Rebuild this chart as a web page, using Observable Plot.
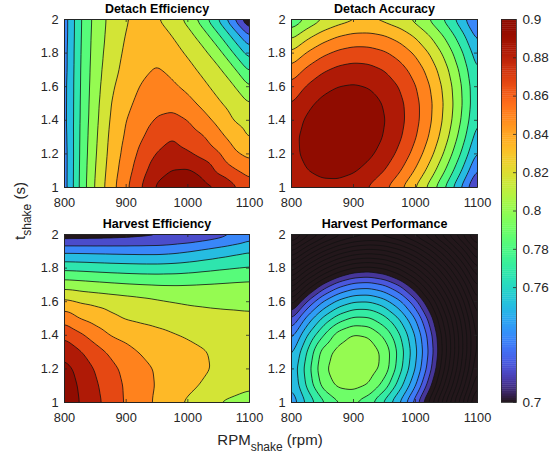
<!DOCTYPE html>
<html>
<head>
<meta charset="utf-8">
<script src="https://cdn.jsdelivr.net/npm/d3@7"></script>
<script src="https://cdn.jsdelivr.net/npm/@observablehq/plot@0.6"></script>
<style>
  body { margin: 0; background: #fff; }
  #chart { position: relative; width: 554px; height: 456px; overflow: hidden; background: #fff; }
  text { white-space: pre; }
</style>
</head>
<body>
<div id="chart"></div>
<script>
// ---- data ----
const rpm = [800, 825, 850, 875, 900, 925, 950, 975, 1000, 1025, 1050, 1075, 1100];
const tShake = [1.0, 1.1, 1.2, 1.3, 1.4, 1.5, 1.6, 1.7, 1.8, 1.9, 2.0];

// rows: t = 1.0 ... 2.0, columns: rpm 800 ... 1100
const detachEfficiency = [
  [0.794, 0.8218, 0.8413, 0.8558, 0.8681, 0.88, 0.892, 0.8935, 0.896, 0.8933, 0.8905, 0.882, 0.874],
  [0.794, 0.8215, 0.8403, 0.8545, 0.8657, 0.8763, 0.886, 0.8907, 0.8914, 0.8875, 0.8775, 0.8713, 0.866],
  [0.794, 0.8212, 0.8392, 0.8533, 0.8635, 0.8729, 0.8807, 0.8841, 0.8814, 0.8767, 0.8711, 0.862, 0.857],
  [0.7945, 0.8209, 0.8383, 0.8523, 0.8615, 0.8691, 0.875, 0.8798, 0.8752, 0.8709, 0.8633, 0.8557, 0.849],
  [0.795, 0.8206, 0.8374, 0.8511, 0.86, 0.8663, 0.8711, 0.8723, 0.87, 0.8638, 0.857, 0.8495, 0.846],
  [0.795, 0.8204, 0.8367, 0.85, 0.8578, 0.863, 0.8671, 0.8679, 0.863, 0.8575, 0.8513, 0.8456, 0.84],
  [0.795, 0.8201, 0.836, 0.8481, 0.8557, 0.8608, 0.8631, 0.8615, 0.8578, 0.8522, 0.8466, 0.8409, 0.83],
  [0.7945, 0.8199, 0.8353, 0.8464, 0.8531, 0.858, 0.861, 0.858, 0.853, 0.8477, 0.8419, 0.8319, 0.818],
  [0.7945, 0.8195, 0.8347, 0.8449, 0.8519, 0.8567, 0.8578, 0.8535, 0.8488, 0.8427, 0.8336, 0.8194, 0.8055],
  [0.794, 0.8191, 0.8342, 0.8436, 0.8506, 0.8559, 0.855, 0.85, 0.8438, 0.8352, 0.8218, 0.8069, 0.79],
  [0.794, 0.8188, 0.8336, 0.8428, 0.849, 0.8548, 0.8508, 0.8446, 0.8371, 0.8238, 0.8088, 0.79, 0.768]
];

const detachAccuracy = [
  [0.8805, 0.8845, 0.8868, 0.8867, 0.8842, 0.8792, 0.8718, 0.862, 0.8497, 0.835, 0.8179, 0.7984, 0.7765],
  [0.8845, 0.8899, 0.8927, 0.8932, 0.8912, 0.8868, 0.8801, 0.8708, 0.8591, 0.845, 0.8285, 0.8096, 0.7882],
  [0.8869, 0.8928, 0.8963, 0.8973, 0.8959, 0.8921, 0.8859, 0.8772, 0.8661, 0.8526, 0.8367, 0.8183, 0.7975],
  [0.8869, 0.8934, 0.8975, 0.8991, 0.8983, 0.895, 0.8894, 0.8813, 0.8708, 0.8579, 0.8425, 0.8247, 0.8045],
  [0.8846, 0.8916, 0.8963, 0.8985, 0.8982, 0.8956, 0.8905, 0.883, 0.8731, 0.8607, 0.846, 0.8288, 0.8092],
  [0.8798, 0.8875, 0.8927, 0.8955, 0.8958, 0.8938, 0.8893, 0.8824, 0.873, 0.8613, 0.8471, 0.8305, 0.8114],
  [0.8728, 0.881, 0.8868, 0.8901, 0.8911, 0.8896, 0.8857, 0.8794, 0.8706, 0.8594, 0.8458, 0.8298, 0.8113],
  [0.8633, 0.8721, 0.8785, 0.8824, 0.8839, 0.883, 0.8797, 0.874, 0.8658, 0.8552, 0.8421, 0.8267, 0.8088],
  [0.8515, 0.8609, 0.8678, 0.8723, 0.8745, 0.8741, 0.8714, 0.8662, 0.8586, 0.8486, 0.8362, 0.8213, 0.804],
  [0.8373, 0.8473, 0.8548, 0.8599, 0.8626, 0.8628, 0.8607, 0.8561, 0.8491, 0.8396, 0.8278, 0.8135, 0.7968],
  [0.8207, 0.8313, 0.8394, 0.8451, 0.8484, 0.8492, 0.8476, 0.8436, 0.8372, 0.8283, 0.8171, 0.8034, 0.7872]
];

const harvestEfficiency = [
  [0.8975, 0.8897, 0.8829, 0.8757, 0.8689, 0.8636, 0.8584, 0.8533, 0.8484, 0.844, 0.8397, 0.8385, 0.838],
  [0.896, 0.8888, 0.8815, 0.8747, 0.8687, 0.8638, 0.8593, 0.8558, 0.8524, 0.849, 0.845, 0.8425, 0.8408],
  [0.8935, 0.8869, 0.8792, 0.8728, 0.8674, 0.8628, 0.859, 0.8564, 0.8539, 0.8513, 0.8485, 0.8455, 0.843],
  [0.8871, 0.881, 0.8743, 0.8682, 0.8631, 0.8592, 0.8571, 0.855, 0.8529, 0.8508, 0.848, 0.8455, 0.8435],
  [0.8782, 0.872, 0.8654, 0.8596, 0.8574, 0.8552, 0.853, 0.8509, 0.849, 0.847, 0.8452, 0.844, 0.843],
  [0.8666, 0.8597, 0.856, 0.8522, 0.8493, 0.8478, 0.8465, 0.8452, 0.8442, 0.8433, 0.8425, 0.842, 0.8415],
  [0.8523, 0.8492, 0.8477, 0.8461, 0.8446, 0.8431, 0.8415, 0.8401, 0.839, 0.8385, 0.8382, 0.8381, 0.838],
  [0.8356, 0.8345, 0.8333, 0.8322, 0.8312, 0.8305, 0.83, 0.8299, 0.8302, 0.8307, 0.8312, 0.8318, 0.8323],
  [0.8174, 0.8168, 0.816, 0.8153, 0.8148, 0.8144, 0.8143, 0.8148, 0.8158, 0.8172, 0.8186, 0.8198, 0.8209],
  [0.7978, 0.7976, 0.7973, 0.797, 0.7967, 0.7965, 0.7965, 0.7975, 0.7995, 0.802, 0.8045, 0.807, 0.8094],
  [0.7735, 0.7738, 0.7742, 0.7748, 0.7755, 0.7765, 0.7775, 0.7788, 0.78, 0.7825, 0.7855, 0.7895, 0.795]
];

const harvestPerformance = [
  [0.7422, 0.762, 0.7774, 0.789, 0.7905, 0.7835, 0.7675, 0.7491, 0.7251, 0.6941, 0.6581, 0.6214, 0.5843],
  [0.75, 0.7719, 0.793, 0.802, 0.8035, 0.7995, 0.786, 0.764, 0.7408, 0.7113, 0.6746, 0.6366, 0.5984],
  [0.7516, 0.7749, 0.7975, 0.8055, 0.8075, 0.8055, 0.7965, 0.7733, 0.7498, 0.7215, 0.6857, 0.647, 0.6083],
  [0.7469, 0.7706, 0.794, 0.804, 0.807, 0.8052, 0.7975, 0.7756, 0.7527, 0.7253, 0.6907, 0.6521, 0.6135],
  [0.7361, 0.7596, 0.7792, 0.795, 0.8015, 0.7995, 0.788, 0.7706, 0.7494, 0.7229, 0.6891, 0.6516, 0.6139],
  [0.7187, 0.7433, 0.7616, 0.7751, 0.7822, 0.7816, 0.7733, 0.759, 0.7399, 0.7141, 0.6812, 0.6456, 0.6093],
  [0.6944, 0.7206, 0.7401, 0.7527, 0.7595, 0.76, 0.754, 0.7422, 0.7237, 0.6986, 0.6674, 0.6343, 0.6],
  [0.6645, 0.6907, 0.7118, 0.7257, 0.7335, 0.7349, 0.73, 0.7189, 0.7011, 0.6766, 0.6488, 0.6185, 0.5864],
  [0.6326, 0.6564, 0.6764, 0.6915, 0.7007, 0.7031, 0.699, 0.6882, 0.6718, 0.6508, 0.6261, 0.5986, 0.569],
  [0.599, 0.621, 0.6392, 0.6531, 0.6618, 0.6649, 0.6622, 0.6537, 0.6401, 0.622, 0.6003, 0.5756, 0.5484],
  [0.5644, 0.5848, 0.6017, 0.6146, 0.6229, 0.6264, 0.6248, 0.6181, 0.6068, 0.5912, 0.572, 0.5498, 0.525]
];

const xTicks = [800, 900, 1000, 1100];
const yTicks = [1, 1.2, 1.4, 1.6, 1.8, 2];
const colorbarTicks = [0.7, 0.76, 0.78, 0.8, 0.82, 0.84, 0.86, 0.88, 0.9];
const titles = ["Detach Efficiency", "Detach Accuracy", "Harvest Efficiency", "Harvest Performance"];

// contour levels (0.01 apart)
const levelsA = [0.70].concat(d3.range(78, 90).map(k => k / 100));
const levelsHP = d3.range(50, 81).map(k => k / 100);

// ---- drawing ----
const FONT = "'Liberation Sans', Arial, Helvetica, sans-serif";
const INK = "#262626";
const chart = document.getElementById("chart");

function place(el, left, top) {
  const d = document.createElement("div");
  d.style.cssText = `position:absolute;left:${left}px;top:${top}px;`;
  d.appendChild(el);
  chart.appendChild(d);
}

function panel(title, values, thresholds, domain, left, top, marginRight) {
  const W = 270, H = 225, mL = 64, mT = 19, mB = 38;
  const fw = W - mL - marginRight, fh = H - mT - mB;
  const pts = tShake.flatMap((t, i) => rpm.map((r, j) => ({rpm: r, t, v: values[i][j]})));
  const svg = Plot.plot({
    width: W, height: H,
    marginLeft: mL, marginRight, marginTop: mT, marginBottom: mB,
    style: `background: transparent; overflow: visible; color: ${INK};`,
    x: {domain: [800, 1100]},
    y: {domain: [1, 2]},
    color: {type: "linear", scheme: "turbo", domain, clamp: true},
    marks: [
      Plot.contour(pts, {
        x: "rpm", y: "t", fill: "v",
        interpolate: "barycentric", pixelSize: 1, blur: 3,
        thresholds,
        stroke: "#111", strokeWidth: 0.8, strokeOpacity: 1
      }),
      Plot.frame({stroke: INK, strokeWidth: 0.8}),
      Plot.ruleX(xTicks, {insetTop: fh - 3, stroke: INK, strokeWidth: 0.8}),
      Plot.ruleX(xTicks, {insetBottom: fh - 3, stroke: INK, strokeWidth: 0.8}),
      Plot.ruleY(yTicks, {insetRight: fw - 3, stroke: INK, strokeWidth: 0.8}),
      Plot.ruleY(yTicks, {insetLeft: fw - 3, stroke: INK, strokeWidth: 0.8}),
      Plot.axisX({ticks: xTicks, tickSize: 0, tickPadding: 10, tickFormat: d => String(d), label: null, fontSize: 12.8}),
      Plot.axisY({ticks: yTicks, tickSize: 0, tickPadding: 6, tickFormat: d => String(d), label: null, fontSize: 12.8}),
      Plot.text([title], {frameAnchor: "top", lineAnchor: "middle", dy: -10.5, fontWeight: "bold", fontSize: 12.5, fill: "#000"})
    ]
  });
  svg.setAttribute("font-family", FONT);
  place(svg, left, top);
}

panel(titles[0], detachEfficiency, levelsA, [0.77, 0.89], 0, 0, 21);
panel(titles[1], detachAccuracy, levelsA, [0.77, 0.89], 227, 0, 20);
panel(titles[2], harvestEfficiency, levelsA, [0.77, 0.89], 0, 215, 21);
panel(titles[3], harvestPerformance, levelsHP, [0.7, 0.9], 227, 215, 20);

// colorbar
const steps = d3.range(0, 200).map(i => 0.7 + i * 0.001);
const cb = Plot.plot({
  width: 74, height: 456,
  marginLeft: 21, marginRight: 38, marginTop: 19, marginBottom: 54,
  style: `background: transparent; overflow: visible; color: ${INK};`,
  x: {domain: [0, 1], axis: null},
  y: {domain: [0.7, 0.9]},
  color: {type: "linear", scheme: "turbo", domain: [0.7, 0.9]},
  marks: [
    Plot.rect(steps, {x1: 0, x2: 1, y1: d => d, y2: d => d + 0.0012, fill: d => d + 0.0005, clip: true}),
    Plot.frame({stroke: INK, strokeWidth: 0.8}),
    Plot.ruleY(colorbarTicks, {insetLeft: 12, stroke: INK, strokeWidth: 0.8}),
    Plot.axisY({anchor: "right", ticks: colorbarTicks, tickSize: 0, tickPadding: 6, tickFormat: d => String(d), label: null, fontSize: 13.5})
  ]
});
cb.setAttribute("font-family", FONT);
place(cb, 480, 0);

// axis titles
const ov = d3.create("svg")
  .attr("width", 554).attr("height", 456)
  .style("position", "absolute").style("left", "0px").style("top", "0px")
  .style("overflow", "visible")
  .attr("font-family", FONT).attr("fill", INK);
const xl = ov.append("text").attr("x", 270).attr("y", 445).attr("text-anchor", "middle").attr("font-size", 15);
xl.append("tspan").text("RPM");
xl.append("tspan").attr("font-size", 12).attr("dy", 6).text("shake");
xl.append("tspan").attr("dy", -6).text(" (rpm)");
const yl = ov.append("text").attr("transform", "translate(25,211) rotate(-90)").attr("text-anchor", "middle").attr("font-size", 15);
yl.append("tspan").text("t");
yl.append("tspan").attr("font-size", 12).attr("dy", 6).text("shake");
yl.append("tspan").attr("dy", -6).text(" (s)");
chart.appendChild(ov.node());
</script>
</body>
</html>
